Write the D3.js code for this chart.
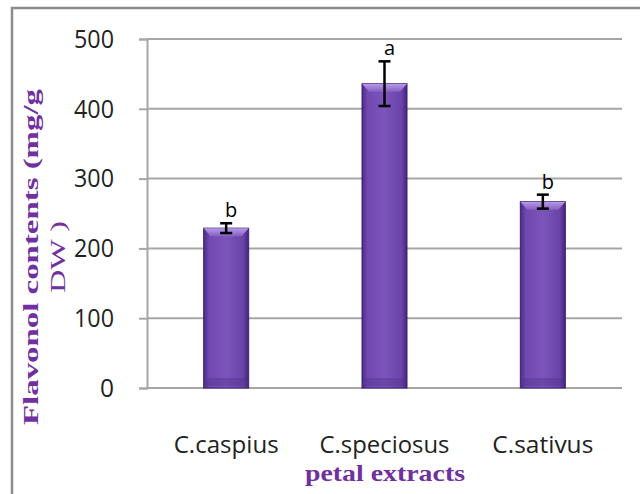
<!DOCTYPE html>
<html>
<head>
<meta charset="utf-8">
<script src="https://cdn.jsdelivr.net/npm/d3@7"></script>
<style>
  body { margin: 0; background: #fff; }
  svg { display: block; }
</style>
</head>
<body>
<div id="graf"></div>
<script>
// datos
const especies  = ['C.caspius', 'C.speciosus', 'C.sativus']
const flavonol  = [229, 436, 267]
const errores   = [7, 32, 10]
const letras    = ['b', 'a', 'b']
const ticksY    = [0, 100, 200, 300, 400, 500]

const ancho_total = 640, alto_total = 494
const margins = { top: 39, left: 147, right: 18, bottom: 106 }
const ancho = ancho_total - margins.left - margins.right
const alto  = alto_total - margins.top - margins.bottom

const svg = d3.select('#graf').append('svg')
  .attr('width', ancho_total)
  .attr('height', alto_total)

// marco exterior
svg.append('rect')
  .attr('x', 12).attr('y', 8)
  .attr('width', 640).attr('height', 500)
  .attr('fill', 'none')
  .attr('stroke', '#8c8c8c')
  .attr('stroke-width', 2.5)

// gradientes de la barra
const defs = svg.append('defs')
const gh = defs.append('linearGradient').attr('id', 'gh')
  .attr('x1', 0).attr('x2', 1).attr('y1', 0).attr('y2', 0)
gh.append('stop').attr('offset', '0%').attr('stop-color', '#4a2b86')
gh.append('stop').attr('offset', '12%').attr('stop-color', '#7048b0')
gh.append('stop').attr('offset', '50%').attr('stop-color', '#7c54ba')
gh.append('stop').attr('offset', '88%').attr('stop-color', '#6a43a8')
gh.append('stop').attr('offset', '100%').attr('stop-color', '#42247a')

const gt = defs.append('linearGradient').attr('id', 'gt')
  .attr('x1', 0).attr('x2', 0).attr('y1', 0).attr('y2', 1)
gt.append('stop').attr('offset', '0%').attr('stop-color', '#b89be6')
gt.append('stop').attr('offset', '100%').attr('stop-color', '#8560c4')

const g = svg.append('g')
  .attr('transform', `translate(${margins.left}, ${margins.top})`)

const x = d3.scaleBand().domain(especies).range([0, ancho]).padding(0)
const y = d3.scaleLinear().domain([0, 500]).range([alto, 0])
const anchoBarra = 45

// rejilla y eje Y
const yAxis = d3.axisLeft(y).tickValues(ticksY).tickSize(8).tickPadding(25)
const yG = g.append('g').call(yAxis)
yG.select('.domain').attr('stroke', '#a6a6a6').attr('stroke-width', 2)
yG.selectAll('.tick line').attr('stroke', '#a6a6a6').attr('stroke-width', 2)
yG.selectAll('.tick text')
  .attr('font-family', 'Open Sans, sans-serif')
  .attr('font-size', '26px')
  .attr('fill', '#222')
  .attr('textLength', d => d === 0 ? 14 : 40)
  .attr('lengthAdjust', 'spacingAndGlyphs')

g.append('g')
  .selectAll('line')
  .data(ticksY)
  .join('line')
  .attr('x1', 0).attr('x2', ancho)
  .attr('y1', d => y(d)).attr('y2', d => y(d))
  .attr('stroke', '#a6a6a6')
  .attr('stroke-width', 2)

// barras
const barras = g.append('g').selectAll('g')
  .data(especies)
  .join('g')
  .attr('transform', d => `translate(${x(d) + x.bandwidth() / 2 - anchoBarra / 2}, 0)`)

barras.append('rect')
  .attr('x', 0)
  .attr('y', (d, i) => y(flavonol[i]))
  .attr('width', anchoBarra)
  .attr('height', (d, i) => alto - y(flavonol[i]))
  .attr('fill', 'url(#gh)')
  .attr('stroke', '#3d2270')
  .attr('stroke-width', 1)

// bisel superior
barras.append('path')
  .attr('d', (d, i) => {
    const t = y(flavonol[i])
    return `M0,${t} L${anchoBarra},${t} L${anchoBarra - 7},${t + 8} L7,${t + 8} Z`
  })
  .attr('fill', 'url(#gt)')

// bisel inferior
barras.append('rect')
  .attr('x', 3)
  .attr('y', alto - 10)
  .attr('width', anchoBarra - 6)
  .attr('height', 8)
  .attr('fill', '#4e2d88')
  .attr('opacity', 0.35)

// barras de error
const err = g.append('g').selectAll('g')
  .data(especies)
  .join('g')
  .attr('stroke', '#000')
  .attr('stroke-width', 2.5)

err.append('line')
  .attr('x1', d => x(d) + x.bandwidth() / 2)
  .attr('x2', d => x(d) + x.bandwidth() / 2)
  .attr('y1', (d, i) => y(flavonol[i] + errores[i]))
  .attr('y2', (d, i) => y(flavonol[i] - errores[i]))
err.append('line')
  .attr('x1', d => x(d) + x.bandwidth() / 2 - 6)
  .attr('x2', d => x(d) + x.bandwidth() / 2 + 6)
  .attr('y1', (d, i) => y(flavonol[i] + errores[i]))
  .attr('y2', (d, i) => y(flavonol[i] + errores[i]))
err.append('line')
  .attr('x1', d => x(d) + x.bandwidth() / 2 - 6)
  .attr('x2', d => x(d) + x.bandwidth() / 2 + 6)
  .attr('y1', (d, i) => y(flavonol[i] - errores[i]))
  .attr('y2', (d, i) => y(flavonol[i] - errores[i]))

// letras de significancia
g.append('g').selectAll('text')
  .data(especies)
  .join('text')
  .attr('x', d => x(d) + x.bandwidth() / 2 + 5)
  .attr('y', (d, i) => y(flavonol[i] + errores[i]) - 6)
  .attr('text-anchor', 'middle')
  .attr('font-family', 'Open Sans, sans-serif')
  .attr('font-size', '20px')
  .attr('fill', '#000')
  .text((d, i) => letras[i])

// etiquetas del eje X
g.append('g').selectAll('text')
  .data(especies)
  .join('text')
  .attr('x', d => x(d) + x.bandwidth() / 2)
  .attr('y', alto + 65)
  .attr('text-anchor', 'middle')
  .attr('font-family', 'Open Sans, sans-serif')
  .attr('font-size', '23px')
  .attr('fill', '#222')
  .attr('textLength', (d, i) => [105, 130, 101][i])
  .attr('lengthAdjust', 'spacingAndGlyphs')
  .text(d => d)

// títulos
svg.append('text')
  .attr('x', 385)
  .attr('y', 481)
  .attr('text-anchor', 'middle')
  .attr('font-family', 'Liberation Serif, serif')
  .attr('font-weight', 'bold')
  .attr('font-size', '24px')
  .attr('fill', '#7030a0')
  .attr('textLength', 160)
  .attr('lengthAdjust', 'spacingAndGlyphs')
  .text('petal extracts')

const tituloY = svg.append('text')
  .attr('transform', 'translate(38, 257) rotate(-90)')
  .attr('text-anchor', 'middle')
  .attr('font-family', 'Liberation Serif, serif')
  .attr('font-weight', 'bold')
  .attr('font-size', '21px')
  .attr('fill', '#7030a0')
tituloY.append('tspan')
  .attr('x', 0).attr('y', 0)
  .attr('textLength', 336)
  .attr('lengthAdjust', 'spacingAndGlyphs')
  .text('Flavonol contents (mg/g')
tituloY.append('tspan')
  .attr('x', 0).attr('y', 27)
  .attr('font-weight', 'normal')
  .attr('textLength', 72)
  .attr('lengthAdjust', 'spacingAndGlyphs')
  .text('DW )')
</script>
</body>
</html>
